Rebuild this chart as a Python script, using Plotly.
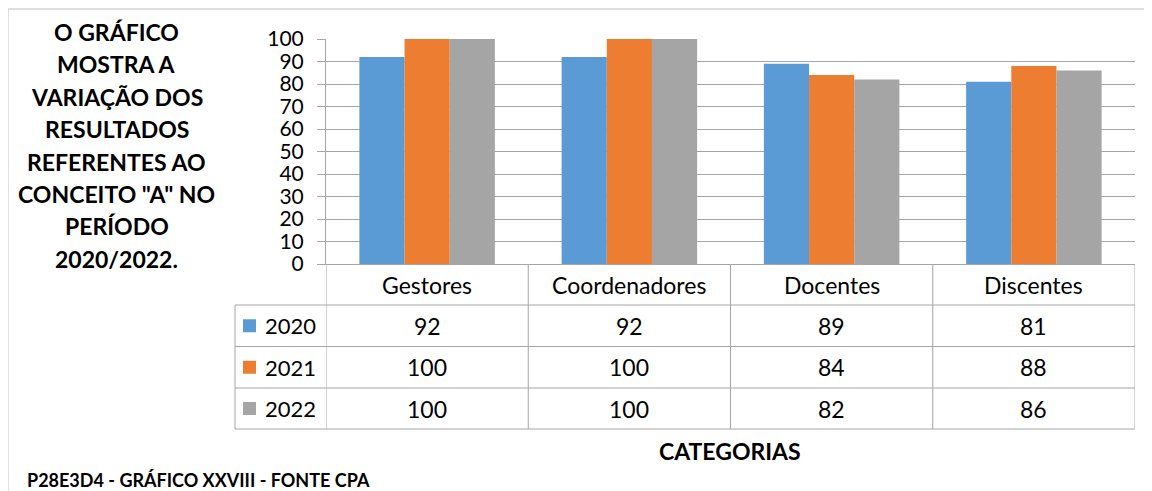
import plotly.graph_objects as go

W, H = 1152, 491
OFF = 8  # page body margin
FW, FH = W - OFF, H - OFF

categories = ["Gestores", "Coordenadores", "Docentes", "Discentes"]
years = ["2020", "2021", "2022"]
values_2020 = [92, 92, 89, 81]
values_2021 = [100, 100, 84, 88]
values_2022 = [100, 100, 82, 86]
series = [values_2020, values_2021, values_2022]
colors = ["#5B9BD5", "#ED7D31", "#A5A5A5"]

title_lines = ["O GRÁFICO", "MOSTRA A", "VARIAÇÃO DOS", "RESULTADOS",
               "REFERENTES AO", 'CONCEITO "A" NO', "PERÍODO", "2020/2022."]
axis_title = "CATEGORIAS"
footer = "P28E3D4 - GRÁFICO XXVIII - FONTE CPA"

FONT = "Lato"
GRID = "#a6a6a6"


def px(x):
    return (x - OFF) / FW


def py(y):
    return 1 - (y - OFF) / FH


fig = go.Figure()
for year, vals, c in zip(years, series, colors):
    fig.add_trace(go.Bar(x=categories, y=vals, name=year, marker_color=c,
                         marker_line_width=0, showlegend=False))

# plot area / table geometry in pixels
left, right = 326, 1135
top, base = 39, 264
row_lines = [305, 346.5, 388, 429]
leg_left = 235

fig.update_layout(
    width=FW, height=FH,
    margin=dict(l=0, r=0, t=0, b=0, autoexpand=False),
    plot_bgcolor="white", paper_bgcolor="white",
    barmode="group", bargap=0.33, bargroupgap=0,
    font=dict(family=FONT, color="black"),
    xaxis=dict(domain=[px(left), px(right)], range=[-0.5, 3.5], automargin=False,
               showticklabels=False, showgrid=False, ticks="",
               showline=True, linecolor=GRID, linewidth=1),
    yaxis=dict(domain=[py(base), py(top)], range=[0, 100], dtick=10, automargin=False,
               showgrid=True, gridcolor=GRID, gridwidth=1,
               ticks="outside", ticklen=8, tickcolor=GRID, ticklabelstandoff=9,
               showline=True, linecolor=GRID, linewidth=1,
               zeroline=False, tickfont=dict(size=21, color="black")),
)

shapes = []
# outer chart border (only top and left visible)
shapes.append(dict(type="rect", xref="paper", yref="paper",
                   x0=px(8), x1=px(W + 20), y0=py(9), y1=py(H + 20),
                   line=dict(color="#bfbfbf", width=1)))
# table vertical lines on category boundaries
for b in [-0.5, 0.5, 1.5, 2.5, 3.5]:
    shapes.append(dict(type="line", xref="x", yref="paper",
                       x0=b, x1=b, y0=py(base), y1=py(row_lines[-1]),
                       line=dict(color=GRID, width=1)))
# legend column left edge
shapes.append(dict(type="line", xref="paper", yref="paper",
                   x0=px(leg_left), x1=px(leg_left),
                   y0=py(row_lines[0]), y1=py(row_lines[-1]),
                   line=dict(color=GRID, width=1)))
# table horizontal lines
for r in row_lines:
    shapes.append(dict(type="line", xref="paper", yref="paper",
                       x0=px(leg_left), x1=px(right), y0=py(r), y1=py(r),
                       line=dict(color=GRID, width=1)))

annotations = []
# header row
for cat in categories:
    annotations.append(dict(x=cat, y=py((base + row_lines[0]) / 2), xref="x", yref="paper",
                            xanchor="center", yanchor="middle",
                            text=cat, showarrow=False, font=dict(size=23)))
# data rows
for i, (year, vals, c) in enumerate(zip(years, series, colors)):
    yc = (row_lines[i] + row_lines[i + 1]) / 2
    shapes.append(dict(type="rect", xref="paper", yref="paper",
                       x0=px(243), x1=px(256), y0=py(yc + 6.5), y1=py(yc - 6.5),
                       fillcolor=c, line=dict(width=0)))
    annotations.append(dict(x=px(263), y=py(yc), xref="paper", yref="paper",
                            xanchor="left", yanchor="middle", text=year, showarrow=False,
                            font=dict(size=22)))
    for cat, v in zip(categories, vals):
        annotations.append(dict(x=cat, y=py(yc), xref="x", yref="paper",
                                xanchor="center", yanchor="middle",
                                text=str(v), showarrow=False, font=dict(size=23)))

# left title block
for k, line in enumerate(title_lines):
    annotations.append(dict(x=px(117), y=py(32 + k * 32.4), xref="paper", yref="paper",
                            xanchor="center", yanchor="middle",
                            text="<b>" + line + "</b>", showarrow=False,
                            font=dict(size=23)))

annotations.append(dict(x=px(730), y=py(451), xref="paper", yref="paper",
                        xanchor="center", yanchor="middle",
                        text="<b>" + axis_title + "</b>", showarrow=False,
                        font=dict(size=23)))
annotations.append(dict(x=px(25), y=py(480), xref="paper", yref="paper",
                        xanchor="left", yanchor="middle",
                        text="<b>" + footer + "</b>", showarrow=False,
                        font=dict(size=18)))

fig.update_layout(shapes=shapes, annotations=annotations)

fig.write_html("out.html")
